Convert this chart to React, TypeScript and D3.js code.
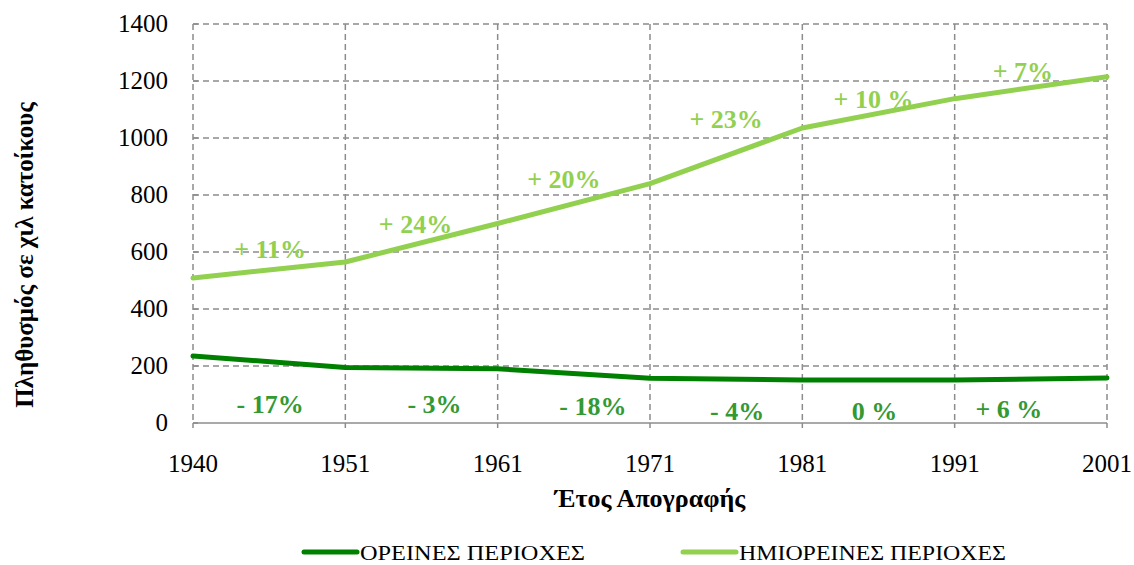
import { line, scaleLinear, scalePoint } from "d3";

const years = ["1940", "1951", "1961", "1971", "1981", "1991", "2001"];
const mountain = [235, 195, 190, 157, 151, 151, 158];
const semiMountain = [509, 565, 700, 840, 1035, 1138, 1215];
const mountainChanges = ["- 17%", "- 3%", "- 18%", "- 4%", "0 %", "+ 6 %"];
const semiChanges = ["+ 11%", "+ 24%", "+ 20%", "+ 23%", "+ 10 %", "+ 7%"];
const yTicks = [0, 200, 400, 600, 800, 1000, 1200, 1400];
const seriesNames = ["ΟΡΕΙΝΕΣ ΠΕΡΙΟΧΕΣ", "ΗΜΙΟΡΕΙΝΕΣ ΠΕΡΙΟΧΕΣ"];

const DARK = "#008000";
const DARK_TEXT = "#339933";
const LIGHT = "#92D050";
const GRID = "#8c8c8c";
const FONT = "'Liberation Serif', 'Times New Roman', serif";

// where the change labels sit (baseline y) and how far they shift from segment middle
const semiLabelY = [258, 233, 188, 128, 108, 80];
const semiShift = [1, -6, -10, 0, -5, -8];
const mountLabelY = [413, 413, 415, 420, 420, 418];
const mountShift = [1, 13, 19, 11, -4, -22];

export default function App() {
  const width = 1134;
  const height = 565;
  const left = 193;
  const right = 1107;
  const top = 24;
  const bottom = 423;

  const x = scalePoint<string>().domain(years).range([left, right]);
  const y = scaleLinear().domain([0, 1400]).range([bottom, top]);

  const path = line<number>()
    .x((_, i) => x(years[i])!)
    .y((d) => y(d));

  const mid = (i: number) => (x(years[i])! + x(years[i + 1])!) / 2;

  return (
    <svg
      width={width}
      height={height}
      style={{ position: "absolute", left: 0, top: 0, background: "#fff" }}
      fontFamily={FONT}
    >
      {/* grid */}
      <g stroke={GRID} strokeWidth={1.5} strokeDasharray="6,4" fill="none">
        {yTicks.slice(1).map((t) => (
          <line key={t} x1={left} x2={right} y1={y(t)} y2={y(t)} />
        ))}
        {years.map((yr) => (
          <line key={yr} x1={x(yr)} x2={x(yr)} y1={top} y2={bottom} />
        ))}
      </g>
      <line x1={left} x2={right} y1={bottom} y2={bottom} stroke={GRID} strokeWidth={1.5} />
      {years.map((yr) => (
        <line key={yr} x1={x(yr)} x2={x(yr)} y1={bottom} y2={bottom + 5} stroke={GRID} strokeWidth={1.5} />
      ))}
      {yTicks.map((t) => (
        <line key={t} x1={left} x2={left + 5} y1={y(t)} y2={y(t)} stroke={GRID} strokeWidth={1.5} />
      ))}

      {/* tick labels */}
      {yTicks.map((t) => (
        <text key={t} x={168} y={y(t)} dy="0.33em" textAnchor="end" fontSize={25}>
          {t}
        </text>
      ))}
      {years.map((yr) => (
        <text key={yr} x={x(yr)} y={472} textAnchor="middle" fontSize={25}>
          {yr}
        </text>
      ))}

      {/* axis titles */}
      <text x={650} y={507} textAnchor="middle" fontSize={26} fontWeight="bold">
        Έτος Απογραφής
      </text>
      <text
        transform="translate(33,255) rotate(-90)"
        textAnchor="middle"
        fontSize={25}
        fontWeight="bold"
      >
        Πληθυσμός σε χιλ κατοίκους
      </text>

      {/* lines */}
      <path d={path(mountain)!} fill="none" stroke={DARK} strokeWidth={5} strokeLinecap="round" strokeLinejoin="round" />
      <path d={path(semiMountain)!} fill="none" stroke={LIGHT} strokeWidth={5} strokeLinecap="round" strokeLinejoin="round" />

      {/* change labels */}
      {semiChanges.map((s, i) => (
        <text
          key={"s" + i}
          x={mid(i) + semiShift[i]}
          y={semiLabelY[i]}
          textAnchor="middle"
          fontSize={26}
          fontWeight="bold"
          fill={LIGHT}
        >
          {s}
        </text>
      ))}
      {mountainChanges.map((s, i) => (
        <text
          key={"m" + i}
          x={mid(i) + mountShift[i]}
          y={mountLabelY[i]}
          textAnchor="middle"
          fontSize={26}
          fontWeight="bold"
          fill={DARK_TEXT}
        >
          {s}
        </text>
      ))}

      {/* legend */}
      {seriesNames.map((n, i) => {
        const lx = i === 0 ? 304 : 683;
        return (
          <g key={n}>
            <line x1={lx} x2={lx + 53} y1={552} y2={552} stroke={i === 0 ? DARK : LIGHT} strokeWidth={5} strokeLinecap="round" />
            <text x={lx + 56} y={560} fontSize={21} textLength={i === 0 ? 225 : 267} lengthAdjust="spacingAndGlyphs">
              {n}
            </text>
          </g>
        );
      })}
    </svg>
  );
}
